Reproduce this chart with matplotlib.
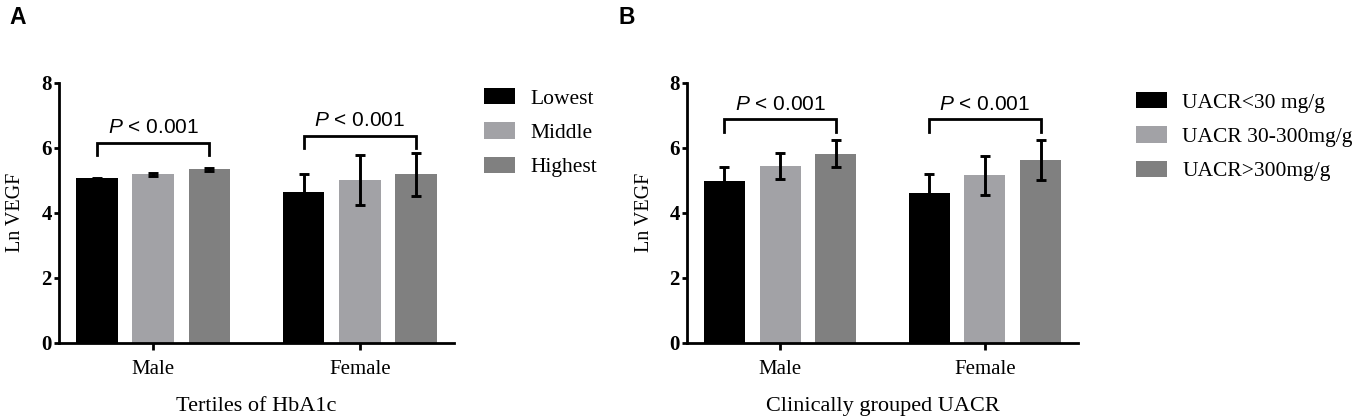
import matplotlib
matplotlib.use('Agg')
import matplotlib.pyplot as plt
import numpy as np

plt.rcParams['mathtext.fontset'] = 'custom'
plt.rcParams['mathtext.rm'] = 'Liberation Sans'
plt.rcParams['mathtext.it'] = 'Liberation Sans:italic'

groups = ['Male', 'Female']

# panel A: tertiles of HbA1c
hba1c_labels = ['Lowest', 'Middle', 'Highest']
hba1c_mean = [[5.06, 4.63], [5.18, 5.01], [5.34, 5.18]]
hba1c_err = [[0.02, 0.55], [0.05, 0.78], [0.05, 0.67]]

# panel B: clinically grouped UACR
uacr_labels = ['UACR<30 mg/g', 'UACR 30-300mg/g', 'UACR>300mg/g']
uacr_mean = [[4.99, 4.61], [5.45, 5.15], [5.82, 5.63]]
uacr_err = [[0.42, 0.57], [0.40, 0.59], [0.42, 0.62]]

p_text = r'$\it{P}$ < 0.001'
colors = ['#000000', '#a2a2a6', '#808080']

W, H = 1358, 420
fig = plt.figure(figsize=(W / 100, H / 100), dpi=100)


def px_axes(x0, y0, x1, y1):
    return fig.add_axes([x0 / W, 1 - y1 / H, (x1 - x0) / W, (y1 - y0) / H])


def draw_panel(ax, means, errs, labels, xtitle, bracket_y, leg_xy):
    x = np.arange(len(groups))
    w = 0.2
    step = 0.272
    bars = []
    for i in range(len(means)):
        pos = x + (i - 1) * step
        b = ax.bar(pos, means[i], w, color=colors[i], label=labels[i],
                   yerr=errs[i], error_kw=dict(ecolor='black', elinewidth=2.1,
                                               capsize=3.8, capthick=2.1))
        bars.append(b)
    for g, by in zip(x, bracket_y):
        x0 = g - step
        x1 = g + step
        ax.plot([x0, x0, x1, x1], [by - 0.38, by, by, by - 0.38],
                color='black', lw=2, solid_joinstyle='miter', clip_on=False)
        ax.text(g, by + 0.17, p_text, ha='center', va='bottom',
                fontsize=15, family='Liberation Sans')
    ax.set_xlim(-0.455, 1.455)
    ax.set_ylim(0, 8)
    ax.set_yticks([0, 2, 4, 6, 8])
    ax.set_xticks(x)
    ax.set_xticklabels(groups, fontsize=15, family='Liberation Serif')
    for t in ax.get_yticklabels():
        t.set_fontfamily('Liberation Serif')
        t.set_fontweight('bold')
        t.set_fontsize(15)
    ax.tick_params(axis='y', length=3.8, width=2, pad=1.5)
    ax.tick_params(axis='x', length=5, width=2, pad=7)
    for s in ['top', 'right']:
        ax.spines[s].set_visible(False)
    for s in ['left', 'bottom']:
        ax.spines[s].set_linewidth(2)
    ax.set_ylabel('Ln VEGF', fontsize=14.5, family='Liberation Serif')
    ax.yaxis.set_label_coords(-0.085, 0.5)
    ax.set_xlabel(xtitle, fontsize=16, family='Liberation Serif', labelpad=13.5)
    fig.legend(handles=bars, labels=labels, loc='upper left',
               bbox_to_anchor=(leg_xy[0] / W, 1 - leg_xy[1] / H),
               frameon=False, borderpad=0, borderaxespad=0,
               handlelength=1.45, handleheight=0.8, handletextpad=0.7,
               labelspacing=0.63, prop=dict(family='Liberation Serif', size=15.5))


axA = px_axes(59, 82.7, 454, 343)
draw_panel(axA, hba1c_mean, hba1c_err, hba1c_labels, 'Tertiles of HbA1c',
           [6.15, 6.37], (484, 88))
axB = px_axes(687, 82.7, 1078, 343)
draw_panel(axB, uacr_mean, uacr_err, uacr_labels, 'Clinically grouped UACR',
           [6.87, 6.87], (1136, 92))

fig.text(9 / W, 1 - 18 / H, 'A', fontsize=16.5, fontweight='bold',
         family='Liberation Sans', ha='left', va='center')
fig.text(619 / W, 1 - 18 / H, 'B', fontsize=16.5, fontweight='bold',
         family='Liberation Sans', ha='left', va='center')

fig.savefig('out.png', dpi=100)
